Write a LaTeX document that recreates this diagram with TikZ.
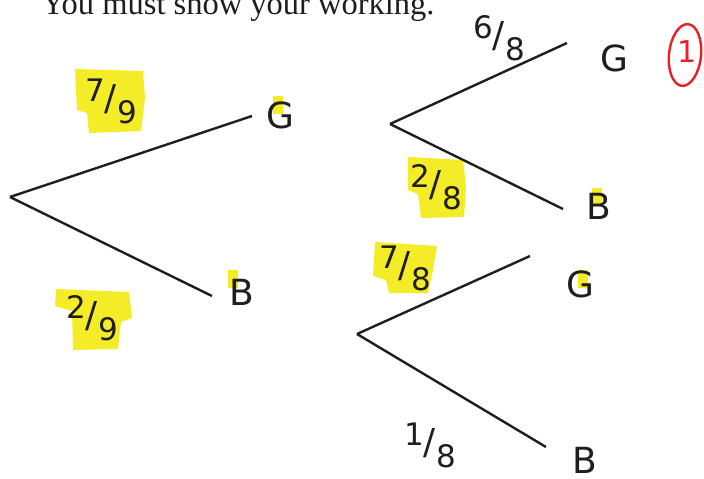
\documentclass[tikz,border=0pt]{standalone}
\usepackage{fontspec}
\setmainfont{Liberation Serif}
\newfontfamily\handfont{DejaVu Sans}
\usetikzlibrary{positioning}
\definecolor{hilite}{HTML}{F4EC27}
\definecolor{ink}{HTML}{1E1E1E}
\definecolor{redink}{HTML}{E8202A}
\newcommand{\slfrac}[2]{\raisebox{0.55ex}{#1}\kern-0.02em\scalebox{1.15}{/}\kern0.02em\raisebox{-0.75ex}{#2}}

\begin{document}
\begin{tikzpicture}[x=1pt, y=-1pt,
    branch/.style={draw=ink, line width=2.4pt},
    letter/.style={font=\handfont\fontsize{36}{40}\selectfont, text=ink, inner sep=0pt},
    prob/.style={font=\handfont\fontsize{31}{34}\selectfont, text=ink, inner sep=0pt}]
  \useasboundingbox (0,0) rectangle (704,479);
  \clip (0,0) rectangle (704,479);
  \node[anchor=base west, font=\fontsize{32.5}{36}\selectfont, text=ink] (task) at (38,14) {You must show your working.};

  \fill[hilite] (75,69) -- (143,71) -- (145,98) -- (141,131) -- (89,133) -- (87,113) -- (77,110) -- cycle;
  \fill[hilite] (56,289) -- (129,292) -- (132,318) -- (121,322) -- (118,349) -- (73,350) -- (72,311) -- (55,306) -- cycle;
  \fill[hilite] (408,157) -- (463,160) -- (466,186) -- (464,217) -- (421,218) -- (418,194) -- (408,190) -- cycle;
  \fill[hilite] (375,242) -- (437,246) -- (433,270) -- (428,293) -- (389,293) -- (386,280) -- (373,276) -- cycle;
  \foreach \hx/\hy in {278/105, 597/197, 583/279, 233/279}
    \fill[hilite] (\hx-5,\hy-9) rectangle (\hx+5,\hy+9);

  \coordinate (r1) at (10,197);
  \coordinate (g1) at (252,116);
  \coordinate (b1) at (212,296);
  \coordinate (r2) at (390,124);
  \coordinate (g2) at (567,43);
  \coordinate (b2) at (563,209);
  \coordinate (r3) at (357,334);
  \coordinate (g3) at (530,256);
  \coordinate (b3) at (546,447);
  \foreach \s/\e in {r1/g1, r1/b1, r2/g2, r2/b2, r3/g3, r3/b3}
    \draw[branch] (\s) -- (\e);

  \node[letter] (G1) at (280,115) {G};
  \node[letter] (B1) at (242,292) {B};
  \node[letter] (GG) at (614,58) {G};
  \node[letter] (GB) at (599,206) {B};
  \node[letter] (BG) at (580,284) {G};
  \node[letter] (BB) at (585,460) {B};

  \node[prob] (p79) at (111,101) {\slfrac{7}{9}};
  \node[prob] (p29) at (92,318) {\slfrac{2}{9}};
  \node[prob] (p68) at (499,38) {\slfrac{6}{8}};
  \node[prob] (p28) at (436,187) {\slfrac{2}{8}};
  \node[prob] (p78) at (405,268) {\slfrac{7}{8}};
  \node[prob] (p18) at (430,445) {\slfrac{1}{8}};

  \draw[redink, line width=2.4pt, rotate around={-6:(685,55)}] (685,55) ellipse[x radius=16, y radius=31];
  \node[font=\handfont\fontsize{30}{32}\selectfont, text=redink, inner sep=0pt] (mark) at (687,52) {1};
\end{tikzpicture}
\end{document}
